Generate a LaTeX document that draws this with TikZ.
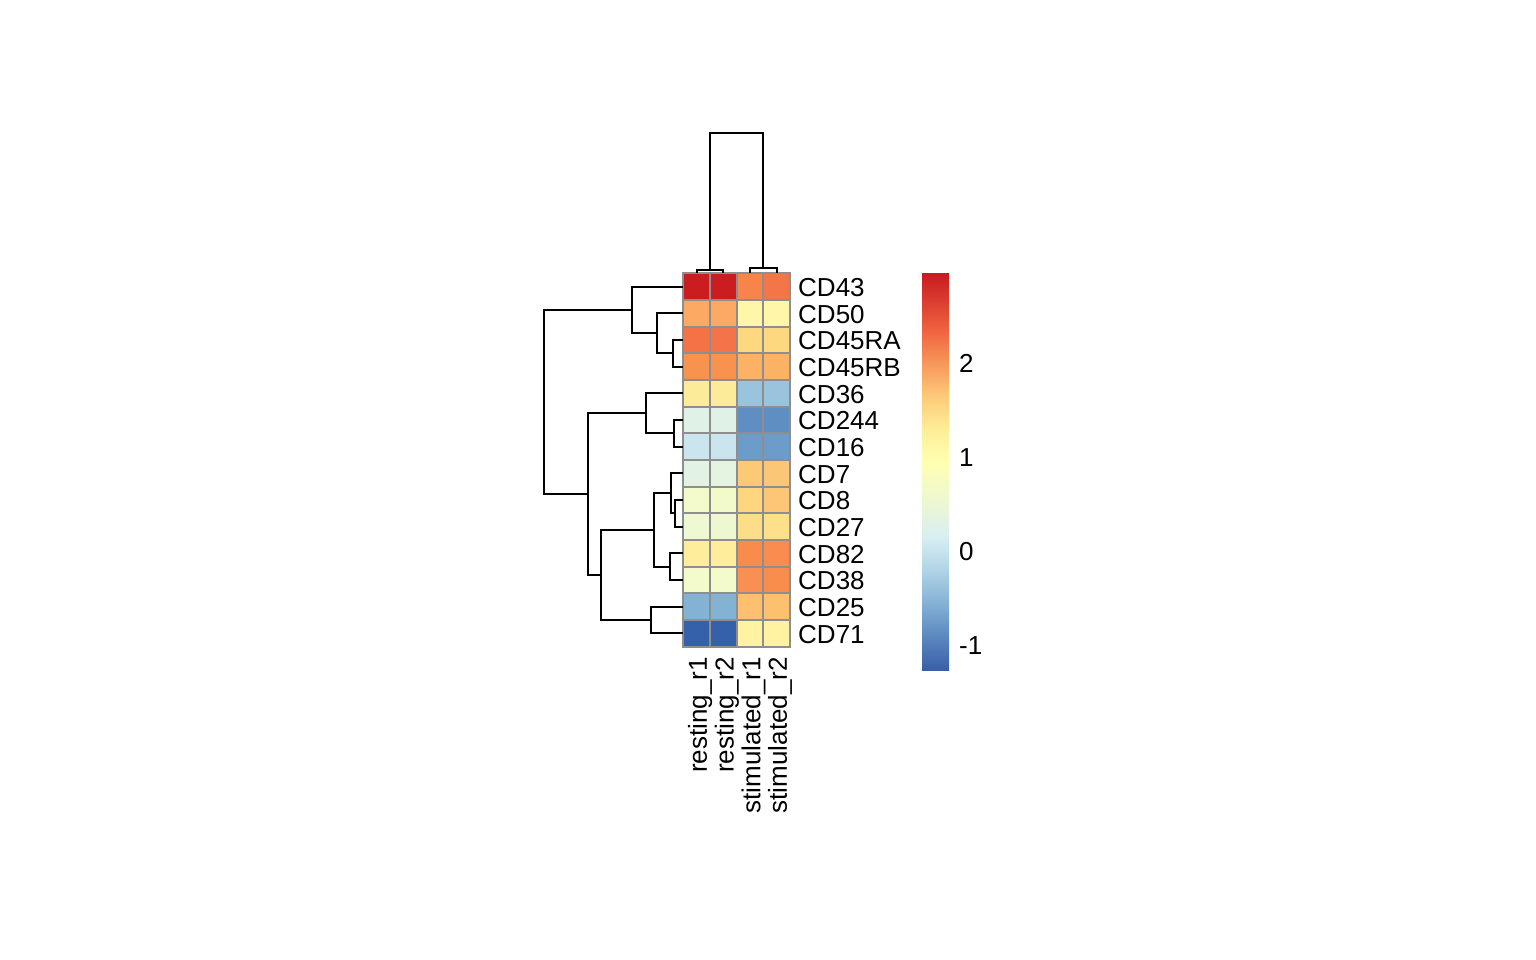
\documentclass[tikz,border=0pt]{standalone}
\usepackage{fontspec}
\setmainfont{Liberation Sans}

\definecolor{gridgrey}{HTML}{8E8E8E}
\definecolor{lg0}{HTML}{3A5EA8}
\definecolor{lg1}{HTML}{5C88C0}
\definecolor{lg2}{HTML}{84B2D5}
\definecolor{lg3}{HTML}{B0D3E6}
\definecolor{lg4}{HTML}{D8EFF2}
\definecolor{lg5}{HTML}{ECF6D4}
\definecolor{lg6}{HTML}{FFFFB2}
\definecolor{lg7}{HTML}{FEEE98}
\definecolor{lg8}{HTML}{FCCB78}
\definecolor{lg9}{HTML}{F8985A}
\definecolor{lg10}{HTML}{F0643F}
\definecolor{lg11}{HTML}{D83A2E}
\definecolor{lg12}{HTML}{C81B22}
\pgfdeclareverticalshading{hmscale}{100bp}{color(0bp)=(lg0); color(25bp)=(lg0);
  color(29.29bp)=(lg1); color(33.43bp)=(lg2); color(37.57bp)=(lg3); color(41.82bp)=(lg4);
  color(45.84bp)=(lg5); color(51.16bp)=(lg6); color(55.30bp)=(lg7); color(59.44bp)=(lg8);
  color(63.58bp)=(lg9); color(67.72bp)=(lg10); color(71.85bp)=(lg11);
  color(75bp)=(lg12); color(100bp)=(lg12)}

% heatmap origin and cell size
\def\hmx{683.3}
\def\hmy{273.3}
\def\hmw{26.67}
\def\hmh{26.67}

\begin{document}
\begin{tikzpicture}[x=1pt, y=-1pt,
  gridline/.style={draw=gridgrey, line width=2pt},
  dendro/.style={draw=black, line width=1.9pt},
  rowlab/.style={anchor=west, inner sep=0pt, font=\fontsize{26}{30}\selectfont},
  collab/.style={anchor=east, rotate=90, inner sep=0pt, font=\fontsize{26}{30}\selectfont},
  leglab/.style={anchor=west, inner sep=0pt, font=\fontsize{26}{30}\selectfont}
]
\useasboundingbox (0,0) rectangle (1536,960);

% cells, row labels and leaves
\foreach \lab/\ra/\rb/\sa/\sb [count=\i from 0] in {
  CD43/CB1D1F/CB1D1F/F7844B/F47547,
  CD50/FBA963/FBA963/FFF6A8/FFF6A8,
  CD45RA/F47246/F27448/FDD880/FDD880,
  CD45RB/F7924F/F7924F/FBB265/FBB265,
  CD36/FCEB99/FCEB99/9AC4DE/9AC4DE,
  CD244/E0F2E8/E0F2E8/5F8FC2/5F8FC2,
  CD16/CBE5EF/CBE5EF/6C9CCA/6C9CCA,
  CD7/E3F3E3/E5F4E0/FDC977/FCC677,
  CD8/F4FBCA/F3FAC9/FDD67F/FCC676,
  CD27/EEF8D2/EEF8D0/FDDE88/FDE089,
  CD82/FEED9A/FEED9A/F98C4D/F98C4E,
  CD38/F4FBCB/F4FBCB/F98F50/F98D4E,
  CD25/82B3D5/82B3D5/FCC06F/FCC06F,
  CD71/3461A9/3461A9/FFF3A2/FFF3A2}{
  \foreach \hex [count=\j from 0] in {\ra,\rb,\sa,\sb}{
    \edef\setfill{\noexpand\definecolor{hmfill}{HTML}{\hex}}\setfill
    \fill[hmfill] ({\hmx+\j*\hmw},{\hmy+\i*\hmh}) rectangle ++(\hmw,\hmh);
  }
  \node[rowlab] (lab\i) at (798,{\hmy+(\i+0.5)*\hmh+0.8}) {\lab};
  \coordinate (leaf\i) at (\hmx,{\hmy+(\i+0.5)*\hmh});
}

% grid
\foreach \j in {1,...,3}
  \draw[gridline] ({\hmx+\j*\hmw},\hmy) -- ++(0,{14*\hmh});
\foreach \i in {1,...,13}
  \draw[gridline] (\hmx,{\hmy+\i*\hmh}) -- ++({4*\hmw},0);
\draw[gridline] (\hmx,\hmy) rectangle ++({4*\hmw},{14*\hmh});

% row dendrogram
\coordinate (mRA) at (673.3,353.3);
\coordinate (m50) at (657.3,333.3);
\coordinate (m43) at (631.7,310);
\coordinate (m244) at (674.3,433.3);
\coordinate (m36) at (645.7,413.3);
\coordinate (m8) at (675,513.3);
\coordinate (m7) at (671.3,493.3);
\coordinate (m82) at (670,566.7);
\coordinate (mT) at (654.3,530);
\coordinate (m25) at (651.3,620);
\coordinate (mU) at (601,575);
\coordinate (mV) at (588.3,494.2);
\coordinate (mroot) at (544,402.1);
\draw[dendro] (leaf2) -| (mRA) |- (leaf3);
\draw[dendro] (leaf1) -| (m50) |- (mRA);
\draw[dendro] (leaf0) -| (m43) |- (m50);
\draw[dendro] (leaf5) -| (m244) |- (leaf6);
\draw[dendro] (leaf4) -| (m36) |- (m244);
\draw[dendro] (leaf8) -| (m8) |- (leaf9);
\draw[dendro] (leaf7) -| (m7) |- (m8);
\draw[dendro] (leaf10) -| (m82) |- (leaf11);
\draw[dendro] (m7) -| (mT) |- (m82);
\draw[dendro] (leaf12) -| (m25) |- (leaf13);
\draw[dendro] (mT) -| (mU) |- (m25);
\draw[dendro] (m36) -| (mV) |- (mU);
\draw[dendro] (m43) -| (mroot) |- (mV);

% column dendrogram and labels
\foreach \lab [count=\j from 0] in {resting\_r1,resting\_r2,stimulated\_r1,stimulated\_r2}{
  \coordinate (top\j) at ({\hmx+(\j+0.5)*\hmw},\hmy);
  \node[collab] (col\j) at ({\hmx+(\j+0.5)*\hmw+3.5},657) {\lab};
}
\coordinate (cR) at (710,270);
\coordinate (cS) at (763.3,268.3);
\coordinate (croot) at (736.7,133.3);
\draw[dendro] (top0) |- (cR) -| (top1);
\draw[dendro] (top2) |- (cS) -| (top3);
\draw[dendro] (cR) |- (croot) -| (cS);

% legend
\shade[shading=hmscale] (922,273.3) rectangle (949,670);
\foreach \v in {-1,0,1,2}
  \node[leglab] (leg\v) at (959,{551.5-93.8*\v}) {\v};

\end{tikzpicture}
\end{document}
